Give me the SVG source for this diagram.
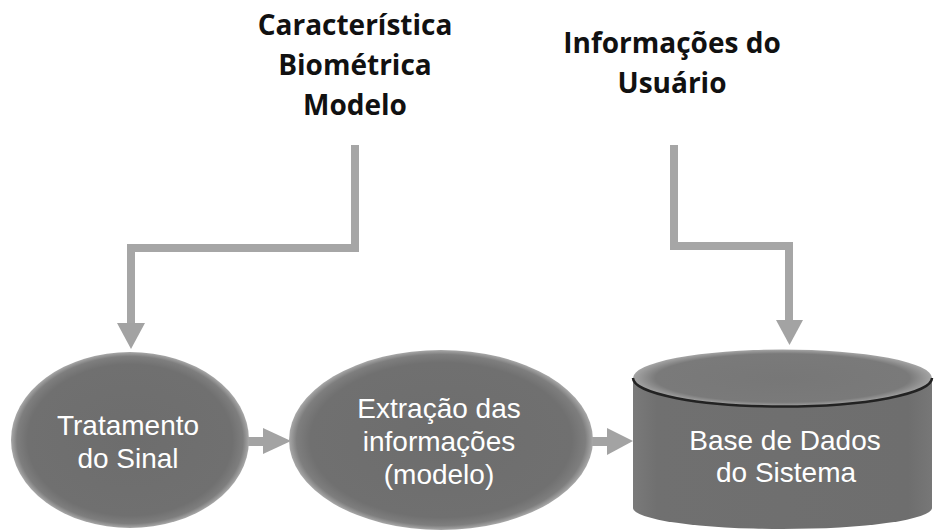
<svg xmlns="http://www.w3.org/2000/svg" width="934" height="531" viewBox="0 0 934 531">
<defs>
<style>
.lbl{font-family:"Open Sans","Liberation Sans",sans-serif;font-weight:bold;font-size:28px;fill:#111;text-anchor:middle}
.nt{font-family:"Liberation Sans",Arial,sans-serif;font-size:28px;fill:#fff;text-anchor:middle}
.conn{fill:none;stroke:#a6a6a6;stroke-width:8;stroke-linejoin:miter}
.head{fill:#a3a3a3}
</style>
<radialGradient id="eg" cx="50%" cy="50%" r="50%">
<stop offset="0" stop-color="#6d6d6d"/>
<stop offset="0.86" stop-color="#707070"/>
<stop offset="0.95" stop-color="#7e7e7e"/>
<stop offset="1" stop-color="#a8a8a8"/>
</radialGradient>
<linearGradient id="cb" x1="0" y1="0" x2="1" y2="0">
<stop offset="0" stop-color="#7a7a7a"/>
<stop offset="0.08" stop-color="#707070"/>
<stop offset="0.92" stop-color="#6e6e6e"/>
<stop offset="1" stop-color="#777"/>
</linearGradient>
<radialGradient id="ct" cx="50%" cy="50%" r="50%">
<stop offset="0" stop-color="#777"/>
<stop offset="0.85" stop-color="#7a7a7a"/>
<stop offset="1" stop-color="#a5a5a5"/>
</radialGradient>
</defs>
<rect width="934" height="531" fill="#fff"/>

<g id="label-caracteristica">
<text class="lbl" x="355" y="35">Característica</text>
<text class="lbl" x="355" y="75">Biométrica</text>
<text class="lbl" x="355" y="115">Modelo</text>
</g>
<g id="label-informacoes">
<text class="lbl" x="672" y="53">Informações do</text>
<text class="lbl" x="672" y="93">Usuário</text>
</g>

<g id="connectors">
<polyline class="conn" points="355,145 355,248 131,248 131,324"/>
<polygon class="head" points="117,323 145,323 131,349"/>
<polyline class="conn" points="674,145 674,246 789,246 789,321"/>
<polygon class="head" points="776,320 803,320 789.5,345"/>
<rect class="head" x="245" y="437" width="20" height="9"/>
<polygon class="head" points="263,428 263,454 291,441"/>
<rect class="head" x="588" y="437" width="21" height="9"/>
<polygon class="head" points="607,428 607,455 633,441"/>
</g>

<g id="node-tratamento">
<ellipse cx="130" cy="440" rx="119" ry="88" fill="url(#eg)"/>
<text class="nt" x="128" y="435">Tratamento</text>
<text class="nt" x="128" y="468">do Sinal</text>
</g>

<g id="node-extracao">
<ellipse cx="441" cy="440" rx="152" ry="90" fill="url(#eg)"/>
<text class="nt" x="439" y="418">Extração das</text>
<text class="nt" x="439" y="451">informações</text>
<text class="nt" x="439" y="484">(modelo)</text>
</g>

<g id="node-base">
<path d="M633,378 L633,508 A149.5,21 0 0 0 932,508 L932,378 Z" fill="url(#cb)"/>
<ellipse cx="782.5" cy="378" rx="149.5" ry="28.5" fill="url(#ct)"/>
<path d="M633,378 A149.5,28.5 0 0 0 932,378" fill="none" stroke="#222" stroke-width="2.5"/>
<text class="nt" x="785" y="450">Base de Dados</text>
<text class="nt" x="786" y="482">do Sistema</text>
</g>
</svg>
